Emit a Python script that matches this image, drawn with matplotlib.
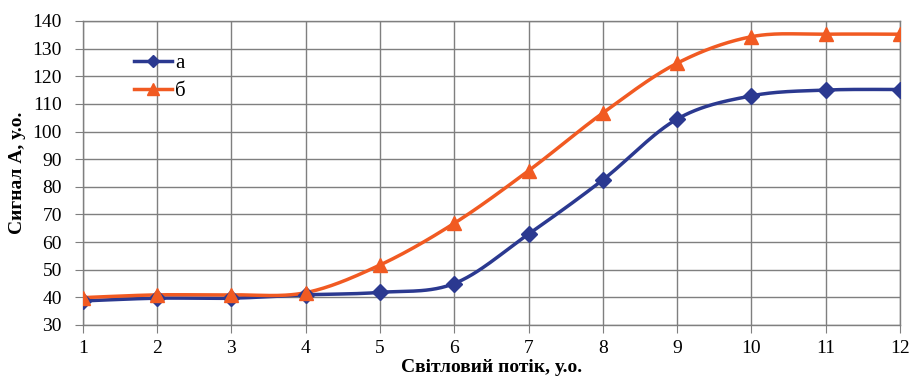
import numpy as np
import matplotlib.pyplot as plt

# data
x_vals = [1, 2, 3, 4, 5, 6, 7, 8, 9, 10, 11, 12]
series_a = [38.7, 39.7, 39.7, 40.9, 41.8, 45.0, 62.9, 82.5, 104.5, 112.9, 115.0, 115.2]
series_b = [39.9, 40.9, 40.9, 41.7, 51.7, 66.8, 85.8, 106.7, 124.7, 134.3, 135.2, 135.2]
y_ticks = [30, 40, 50, 60, 70, 80, 90, 100, 110, 120, 130, 140]

blue = '#2B3990'
orange = '#F15A22'

plt.rcParams['font.family'] = ['Liberation Serif', 'DejaVu Serif']


def smooth(xs, ys, n=30):
    # Excel-like smoothed line (Catmull-Rom through the points)
    xs = np.asarray(xs, float)
    ys = np.asarray(ys, float)
    px = np.concatenate([[xs[0]], xs, [xs[-1]]])
    py = np.concatenate([[ys[0]], ys, [ys[-1]]])
    out_x, out_y = [], []
    t = np.linspace(0, 1, n)
    for i in range(1, len(px) - 2):
        p0 = np.array([px[i], py[i]])
        p3 = np.array([px[i + 1], py[i + 1]])
        c1 = p0 + (np.array([px[i + 1], py[i + 1]]) - np.array([px[i - 1], py[i - 1]])) / 6
        c2 = p3 - (np.array([px[i + 2], py[i + 2]]) - p0) / 6
        b = ((1 - t) ** 3)[:, None] * p0 + (3 * (1 - t) ** 2 * t)[:, None] * c1 \
            + (3 * (1 - t) * t ** 2)[:, None] * c2 + (t ** 3)[:, None] * p3
        out_x.extend(b[:, 0])
        out_y.extend(b[:, 1])
    return out_x, out_y


fig = plt.figure(figsize=(9.1, 3.81), dpi=100)
ax = fig.add_axes([0.091, 0.147, 0.898, 0.798])

sx, sy = smooth(x_vals, series_a)
ax.plot(sx, sy, color=blue, lw=2.5, zorder=3)
ax.plot(x_vals, series_a, ls='none', marker='D', ms=8, color=blue, zorder=4)
sx, sy = smooth(x_vals, series_b)
ax.plot(sx, sy, color=orange, lw=2.5, zorder=3)
ax.plot(x_vals, series_b, ls='none', marker='^', ms=10, color=orange, zorder=4)

# legend handles
ax.plot([], [], color=blue, lw=2.5, marker='D', ms=8, label='а')
ax.plot([], [], color=orange, lw=2.5, marker='^', ms=10, label='б')
ax.legend(loc='upper left', bbox_to_anchor=(0.04, 0.955), frameon=False,
          fontsize=15, handlelength=1.8, handletextpad=0.15, labelspacing=0.4,
          markerscale=0.8)

ax.set_xlim(1, 12)
ax.set_ylim(30, 140)
ax.set_xticks(x_vals)
ax.set_yticks(y_ticks)
ax.grid(True, color='#7f7f7f', lw=1)
ax.tick_params(direction='out', length=6, color='#7f7f7f', labelsize=14)
ax.tick_params(axis='y', pad=9)
ax.tick_params(axis='x', pad=5)
for s in ax.spines.values():
    s.set_color('#7f7f7f')
    s.set_linewidth(1)

ax.set_xlabel('Світловий потік, у.о.', fontsize=14, fontweight='bold', labelpad=1)
ax.set_ylabel('Сигнал А, у.о.', fontsize=14, fontweight='bold', labelpad=5)

fig.savefig('out.png', dpi=100)
